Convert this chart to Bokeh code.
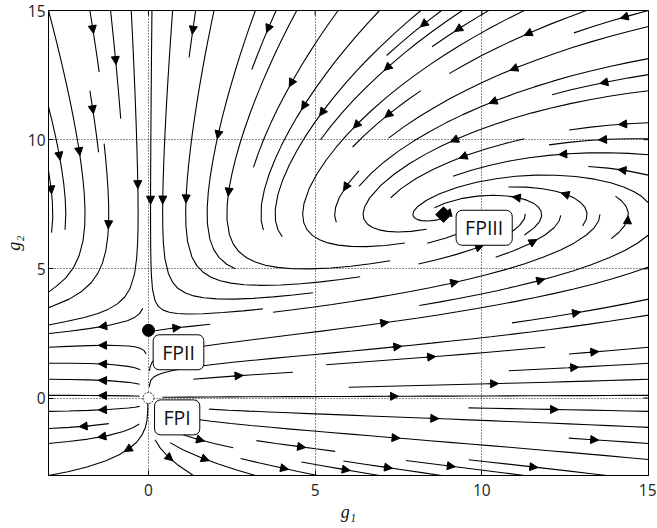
import numpy as np
from bokeh.plotting import figure
from bokeh.models import (Range1d, FixedTicker, Label, Arrow,
                          NormalHead, ColumnDataSource)
from bokeh.embed import file_html
from bokeh.resources import INLINE

# ---------------- data ----------------
FP_NAMES = ["FPI", "FPII", "FPIII"]
FP_G1 = [0.0, 0.0, 8.85]
FP_G2 = [0.0, 2.62, 7.1]
FP_LABEL_G1 = [0.86, 0.90, 10.07]
FP_LABEL_G2 = [-0.75, 1.77, 6.59]
G1_RANGE = [-3.0, 15.0]
G2_RANGE = [-3.0, 15.0]
TICKS = [0, 5, 10, 15]
GRID_TICKS = [0, 5, 10]
RATE_G1 = 1.8   # relative flow rate of g1
RATE_G2 = 1.0   # relative flow rate of g2


def beta(g1, g2):
    """RG flow with fixed points FPI (0,0), FPII (0,g2*), FPIII (g1**, g2**)."""
    k = (FP_G2[2] - FP_G2[1]) / FP_G1[2]
    dg1 = RATE_G1 * g1 * (FP_G2[2] - g2)
    dg2 = RATE_G2 * g2 * (FP_G2[1] - g2 + k * g1)
    return dg1, dg2


# ------------- stream line tracing (mask based, like a streamplot) -------------
class _OOB(Exception):
    pass


class _Term(Exception):
    pass


class _Invalid(Exception):
    pass


def stream_lines(field, xr, yr, density=1.0, minlength=0.1, maxlength=4.0):
    W = xr[1] - xr[0]
    H = yr[1] - yr[0]
    nm = int(30 * density)
    mask = np.zeros((nm, nm), dtype=int)
    st = {"traj": [], "cur": None}

    def cell(xa, ya):
        return int(round(xa * (nm - 1))), int(round(ya * (nm - 1)))

    def within(xa, ya):
        return 0.0 <= xa <= 1.0 and 0.0 <= ya <= 1.0

    def update(xa, ya):
        if not within(xa, ya):
            raise _Invalid
        c = cell(xa, ya)
        if st["cur"] != c:
            if mask[c[1], c[0]] == 0:
                st["traj"].append(c)
                mask[c[1], c[0]] = 1
                st["cur"] = c
            else:
                raise _Invalid

    def vel(xa, ya, sign):
        if not within(xa, ya):
            raise _OOB
        u, v = field(xr[0] + xa * W, yr[0] + ya * H)
        ua, va = u / W, v / H
        s = np.hypot(ua, va)
        if s == 0:
            raise _Term
        return sign * ua / s, sign * va / s

    def rk12(x0, y0, sign):
        maxerror = 0.003
        maxds = min(1.0 / nm, 0.1)
        ds = maxds
        stotal = 0.0
        xi, yi = x0, y0
        traj = []
        while True:
            try:
                if within(xi, yi):
                    traj.append((xi, yi))
                else:
                    raise _OOB
                k1x, k1y = vel(xi, yi, sign)
                k2x, k2y = vel(xi + ds * k1x, yi + ds * k1y, sign)
            except _OOB:
                if traj:
                    xl, yl = traj[-1]
                    try:
                        cx, cy = vel(xl, yl, sign)
                    except (_OOB, _Term):
                        break
                    dsx = np.inf if cx == 0 else (xl / -cx if cx < 0 else (1 - xl) / cx)
                    dsy = np.inf if cy == 0 else (yl / -cy if cy < 0 else (1 - yl) / cy)
                    de = min(dsx, dsy)
                    traj.append((xl + cx * de, yl + cy * de))
                    stotal += de
                break
            except _Term:
                break
            dx1, dy1 = ds * k1x, ds * k1y
            dx2, dy2 = ds * 0.5 * (k1x + k2x), ds * 0.5 * (k1y + k2y)
            err = np.hypot(dx2 - dx1, dy2 - dy1)
            if err < maxerror:
                xi += dx2
                yi += dy2
                try:
                    update(xi, yi)
                except _Invalid:
                    break
                if stotal + ds > maxlength:
                    break
                stotal += ds
            if err == 0:
                ds = maxds
            else:
                ds = min(maxds, 0.85 * ds * (maxerror / err) ** 0.5)
        return stotal, traj

    def integrate(x0, y0):
        st["traj"] = []
        try:
            update(x0, y0)
        except _Invalid:
            return None
        stotal = 0.0
        pts = []
        s, t = rk12(x0, y0, -1.0)
        stotal += s
        pts += t[::-1]
        st["cur"] = cell(x0, y0)
        s, t = rk12(x0, y0, 1.0)
        stotal += s
        pts += t[1:]
        if stotal > minlength:
            return pts
        for (cx, cy) in st["traj"]:
            mask[cy, cx] = 0
        return None

    def starts(n):
        xfirst, yfirst, xlast, ylast = 0, 1, n - 1, n - 1
        x, y = 0, 0
        d = "right"
        for _ in range(n * n):
            yield x, y
            if d == "right":
                x += 1
                if x >= xlast:
                    xlast -= 1
                    d = "up"
            elif d == "up":
                y += 1
                if y >= ylast:
                    ylast -= 1
                    d = "left"
            elif d == "left":
                x -= 1
                if x <= xfirst:
                    xfirst += 1
                    d = "down"
            else:
                y -= 1
                if y <= yfirst:
                    yfirst += 1
                    d = "right"

    out = []
    for xm, ym in starts(nm):
        if mask[ym, xm] == 0:
            t = integrate(xm / (nm - 1), ym / (nm - 1))
            if t is not None and len(t) > 1:
                a = np.array(t)
                out.append((xr[0] + a[:, 0] * W, yr[0] + a[:, 1] * H))
    return out


lines = stream_lines(beta, G1_RANGE, G2_RANGE)

xs, ys = [], []
ax0, ay0, ax1, ay1 = [], [], [], []
for tx, ty in lines:
    xs.append(list(tx))
    ys.append(list(ty))
    s = np.cumsum(np.hypot(np.diff(tx), np.diff(ty)))
    n = int(np.searchsorted(s, s[-1] / 2.0))
    n = min(n, len(tx) - 2)
    ax0.append(tx[n])
    ay0.append(ty[n])
    ax1.append(float(np.mean(tx[n:n + 2])))
    ay1.append(float(np.mean(ty[n:n + 2])))

# ---------------- figure ----------------
p = figure(width=656, height=527, output_backend="svg", toolbar_location=None,
           x_range=Range1d(*G1_RANGE), y_range=Range1d(*G2_RANGE),
           min_border_left=48, min_border_right=8, min_border_top=10,
           min_border_bottom=52)
p.background_fill_color = "white"
p.border_fill_color = "white"
p.outline_line_color = "black"
p.outline_line_width = 1

tick_font = "Open Sans"
for ax in (p.xaxis[0], p.yaxis[0]):
    ax.ticker = FixedTicker(ticks=TICKS)
    ax.major_tick_in = 5
    ax.major_tick_out = 0
    ax.minor_tick_line_color = None
    ax.axis_line_color = "black"
    ax.major_tick_line_color = "black"
    ax.major_label_text_font = tick_font
    ax.major_label_text_font_size = "15.5px"
    ax.major_label_text_color = "#222222"
    ax.axis_label_text_font = "Liberation Serif"
    ax.axis_label_text_font_style = "italic"
    ax.axis_label_text_font_size = "18px"
    ax.axis_label_text_color = "#111111"

p.xaxis[0].axis_label = "g\u2081"
p.yaxis[0].axis_label = "g\u2082"
p.xaxis[0].major_label_standoff = 8
p.xaxis[0].axis_label_standoff = 3
p.yaxis[0].major_label_standoff = 3
p.yaxis[0].axis_label_standoff = 1

p.xgrid.ticker = FixedTicker(ticks=GRID_TICKS)
p.ygrid.ticker = FixedTicker(ticks=GRID_TICKS)
for g in (p.xgrid[0], p.ygrid[0]):
    g.grid_line_color = "black"
    g.grid_line_dash = "1 2"
    g.grid_line_width = 1
    g.grid_line_alpha = 0.9

# inward ticks on the top and right frame edges (half of each dash is clipped)
p.scatter(x=TICKS, y=[G2_RANGE[1]] * len(TICKS), marker="dash", size=10,
          angle=np.pi / 2, line_color="black", line_width=1)
p.scatter(x=[G1_RANGE[1]] * len(TICKS), y=TICKS, marker="dash", size=10,
          line_color="black", line_width=1)

# stream lines
p.multi_line(xs, ys, line_color="black", line_width=1.1)
asrc = ColumnDataSource(dict(x0=ax0, y0=ay0, x1=ax1, y1=ay1))
p.add_layout(Arrow(end=NormalHead(size=8, fill_color="black", line_color="black",
                                  line_width=1),
                   x_start="x0", y_start="y0", x_end="x1", y_end="y1",
                   source=asrc, line_color="black", line_width=1))

# fixed points
p.scatter(x=[FP_G1[0]], y=[FP_G2[0]], marker="circle", size=11,
          fill_color="white", line_color="black", line_width=0.8,
          line_dash="2 1")
p.scatter(x=[FP_G1[1]], y=[FP_G2[1]], marker="circle", size=12,
          fill_color="black", line_color="black")
p.scatter(x=[FP_G1[2]], y=[FP_G2[2]], marker="square", size=11, angle=np.pi / 4,
          fill_color="black", line_color="black")

for name, lx, ly in zip(FP_NAMES, FP_LABEL_G1, FP_LABEL_G2):
    p.add_layout(Label(x=lx, y=ly, text=name, text_font="Open Sans",
                       text_font_size="19.5px", text_color="#111111",
                       text_align="center", text_baseline="middle",
                       background_fill_color="white", border_line_color="black",
                       border_line_width=1, border_radius=6,
                       padding=dict(left=9, right=9, top=4, bottom=4)))

open("out.html", "w").write(file_html(p, INLINE))
